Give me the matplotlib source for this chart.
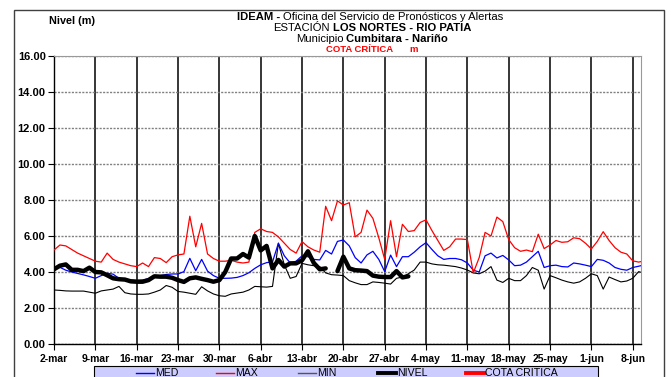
import numpy as np
import matplotlib
matplotlib.use("Agg")
import matplotlib.pyplot as plt
from matplotlib.lines import Line2D
from matplotlib.patches import Rectangle

plt.rcParams['font.family'] = ['Liberation Sans', 'DejaVu Sans']

# daily values starting 2-mar
max_vals = [5.22, 5.50, 5.45, 5.25, 5.05, 4.90, 4.75, 4.60, 4.55, 5.05,
            4.70, 4.55, 4.45, 4.35, 4.30, 4.50, 4.30, 4.80, 4.75, 4.52,
            4.85, 4.95, 5.00, 7.10, 5.40, 6.70, 5.00, 4.75, 4.60, 4.60,
            4.65, 4.55, 4.50, 4.55, 6.20, 6.40, 6.25, 6.20, 5.95, 5.60,
            5.25, 5.05, 5.69, 5.40, 5.22, 5.10, 7.65, 6.85, 7.95, 7.72,
            7.85, 5.95, 6.20, 7.44, 6.98, 5.90, 4.70, 6.85, 4.85, 6.65,
            6.25, 6.30, 6.75, 6.90, 6.30, 5.75, 5.20, 5.40, 5.83, 5.83,
            5.80, 3.95, 4.80, 6.20, 6.00, 7.05, 6.80, 5.80, 5.35, 5.15,
            5.22, 5.13, 6.10, 5.30, 5.50, 5.75, 5.65, 5.68, 5.90, 5.85,
            5.60, 5.28, 5.70, 6.24, 5.75, 5.35, 5.10, 5.00, 4.62, 4.55,
            4.62]
med_vals = [4.20, 4.26, 4.10, 4.00, 3.92, 3.84, 3.75, 3.65, 3.80, 3.93,
            3.88, 3.65, 3.58, 3.56, 3.53, 3.55, 3.63, 3.75, 3.80, 3.86,
            3.89, 3.89, 4.02, 4.76, 4.07, 4.70, 4.05, 3.80, 3.65, 3.65,
            3.66, 3.70, 3.80, 3.96, 4.20, 4.40, 4.52, 4.56, 5.60, 4.90,
            4.50, 4.60, 4.90, 4.85, 4.70, 4.67, 5.20, 5.00, 5.70, 5.78,
            5.45, 4.80, 4.50, 4.95, 5.15, 4.70, 4.02, 4.94, 4.30, 4.85,
            4.85, 5.10, 5.40, 5.63, 5.25, 4.90, 4.70, 4.75, 4.75, 4.68,
            4.50, 4.10, 4.00, 4.90, 5.05, 4.78, 4.92, 4.67, 4.35, 4.38,
            4.55, 4.85, 5.15, 4.25, 4.35, 4.38, 4.30, 4.28, 4.50, 4.45,
            4.38, 4.30, 4.70, 4.65, 4.50, 4.25, 4.15, 4.10, 4.25, 4.32,
            4.40]
min_vals = [3.00, 2.98, 2.95, 2.94, 2.94, 2.94, 2.88, 2.82, 2.95, 3.00,
            3.05, 3.20, 2.85, 2.78, 2.76, 2.76, 2.78, 2.88, 3.00, 3.25,
            3.15, 2.92, 2.88, 2.82, 2.76, 3.18, 2.95, 2.78, 2.68, 2.65,
            2.78, 2.83, 2.88, 3.00, 3.20, 3.18, 3.16, 3.20, 5.60, 4.40,
            3.65, 3.75, 4.48, 4.40, 4.35, 4.30, 3.95, 3.85, 3.83, 3.80,
            3.52, 3.40, 3.30, 3.30, 3.45, 3.42, 3.38, 3.33, 3.65, 3.72,
            3.90, 4.11, 4.55, 4.55, 4.45, 4.40, 4.38, 4.34, 4.30, 4.22,
            4.11, 3.95, 3.90, 4.05, 4.30, 3.55, 3.42, 3.65, 3.52, 3.52,
            3.80, 4.25, 4.10, 3.05, 3.80, 3.68, 3.55, 3.45, 3.38, 3.45,
            3.65, 3.90, 3.80, 3.05, 3.72, 3.58, 3.45, 3.50, 3.65, 4.02,
            3.93]
nivel_vals = [4.15, 4.35, 4.42, 4.12, 4.12, 4.05, 4.24, 4.00, 3.98, 3.82,
              3.65, 3.60, 3.58, 3.48, 3.46, 3.46, 3.55, 3.76, 3.74, 3.74,
              3.68, 3.55, 3.45, 3.65, 3.70, 3.62, 3.55, 3.46, 3.55, 4.00,
              4.75, 4.75, 5.00, 4.80, 6.00, 5.20, 5.45, 4.20, 4.67, 4.30,
              4.48, 4.48, 4.65, 5.15, 4.50, 4.15, 4.20, np.nan, 4.05, 4.85,
              4.20, 4.10, 4.08, 4.05, 3.80, 3.74, 3.72, 3.72, 4.05, 3.70,
              3.76]
date_labels = ['2-mar', '9-mar', '16-mar', '23-mar', '30-mar', '6-abr', '13-abr',
               '20-abr', '27-abr', '4-may', '11-may', '18-may', '25-may', '1-jun', '8-jun']

W, H = 671, 377
fx = lambda px: px / W
fy = lambda py: 1 - py / H

fig = plt.figure(figsize=(W / 100, H / 100), dpi=100)
fig.patch.set_facecolor('white')
ax = fig.add_axes([fx(54), fy(344), fx(641) - fx(54), fy(56) - fy(344)])

days = np.arange(len(max_vals))
days_n = np.arange(len(nivel_vals))
ax.plot(days, min_vals, color='black', lw=0.8, zorder=3)
ax.plot(days, med_vals, color='#0000FF', lw=0.9, zorder=3)
ax.plot(days, max_vals, color='#FF0000', lw=0.9, zorder=3)
ax.plot(days_n, nivel_vals, color='black', lw=3.2, zorder=4, solid_capstyle='round')

ax.set_xlim(0, 99.4)
ax.set_ylim(0, 16)
ax.set_yticks(np.arange(0, 17, 2))
ax.set_yticklabels(['%.2f' % v for v in np.arange(0, 17, 2)], fontsize=8, fontweight='bold')
ax.set_xticks(np.arange(0, 7 * len(date_labels), 7))
ax.set_xticklabels(date_labels, fontsize=7.5, fontweight='bold')
ax.tick_params(axis='both', direction='out', length=4, width=0.8, pad=3)
ax.tick_params(axis='y', pad=2)
ax.yaxis.grid(True, color='#808080', linestyle=(0, (1.5, 1)), lw=1)
ax.xaxis.grid(True, color='black', linestyle='-', lw=1.1)
ax.set_axisbelow(True)
for s in ['top', 'right']:
    ax.spines[s].set_color('#999999')
    ax.spines[s].set_linewidth(0.8)
for s in ['left', 'bottom']:
    ax.spines[s].set_color('black')
    ax.spines[s].set_linewidth(1)

# outer frame
fig.add_artist(Rectangle((fx(14), fy(400)), fx(664) - fx(14), fy(10) - fy(400),
                         transform=fig.transFigure, fill=False, edgecolor='#404040', lw=1))

renderer = fig.canvas.get_renderer()


def mixed_line(cx, py, parts, size, gap=3):
    texts = []
    for txt, weight, color in parts:
        t = fig.text(0, fy(py), txt, fontsize=size, fontweight=weight, color=color,
                     va='center', ha='left')
        texts.append(t)
    widths = [t.get_window_extent(renderer).width for t in texts]
    total = sum(widths) + gap * (len(texts) - 1)
    x = cx - total / 2
    for t, w in zip(texts, widths):
        t.set_x(fx(x))
        x += w + gap


mixed_line(370, 17, [('IDEAM -', 'bold', 'black'),
                     ('Oficina del Servicio de Pronósticos y Alertas', 'normal', 'black')], 8.1)
mixed_line(372, 28, [('ESTACIÓN', 'normal', 'black'),
                     ('LOS NORTES - RIO PATIA', 'bold', 'black')], 8.1)
mixed_line(372, 39, [('Municipio', 'normal', 'black'),
                     ('Cumbitara - Nariño', 'bold', 'black')], 8.1)
mixed_line(372, 49, [('COTA CRÍTICA', 'bold', 'red'), ('m', 'bold', 'red')], 6.8, gap=16)
fig.text(fx(72), fy(21), 'Nivel (m)', fontsize=7.8, fontweight='bold', ha='center', va='center')

# legend box
fig.add_artist(Rectangle((fx(94), fy(400)), fx(598) - fx(94), fy(366) - fy(400),
                         transform=fig.transFigure, facecolor='#CCCCFF', edgecolor='black', lw=0.8))
leg_items = [('MED', '#0000FF', 1.0), ('MAX', '#FF0000', 1.0), ('MIN', '#555555', 1.0),
             ('NIVEL', 'black', 2.8), ('COTA CRITICA', '#FF0000', 2.8)]
leg_x = [136, 216, 298, 378, 466]
for (name, col, lw), lx in zip(leg_items, leg_x):
    fig.add_artist(Line2D([fx(lx), fx(lx + 18)], [fy(373), fy(373)], transform=fig.transFigure,
                          color=col, lw=lw))
    fig.text(fx(lx + 19), fy(373), name, fontsize=7.6, ha='left', va='center')

fig.savefig('out.png', dpi=100)
